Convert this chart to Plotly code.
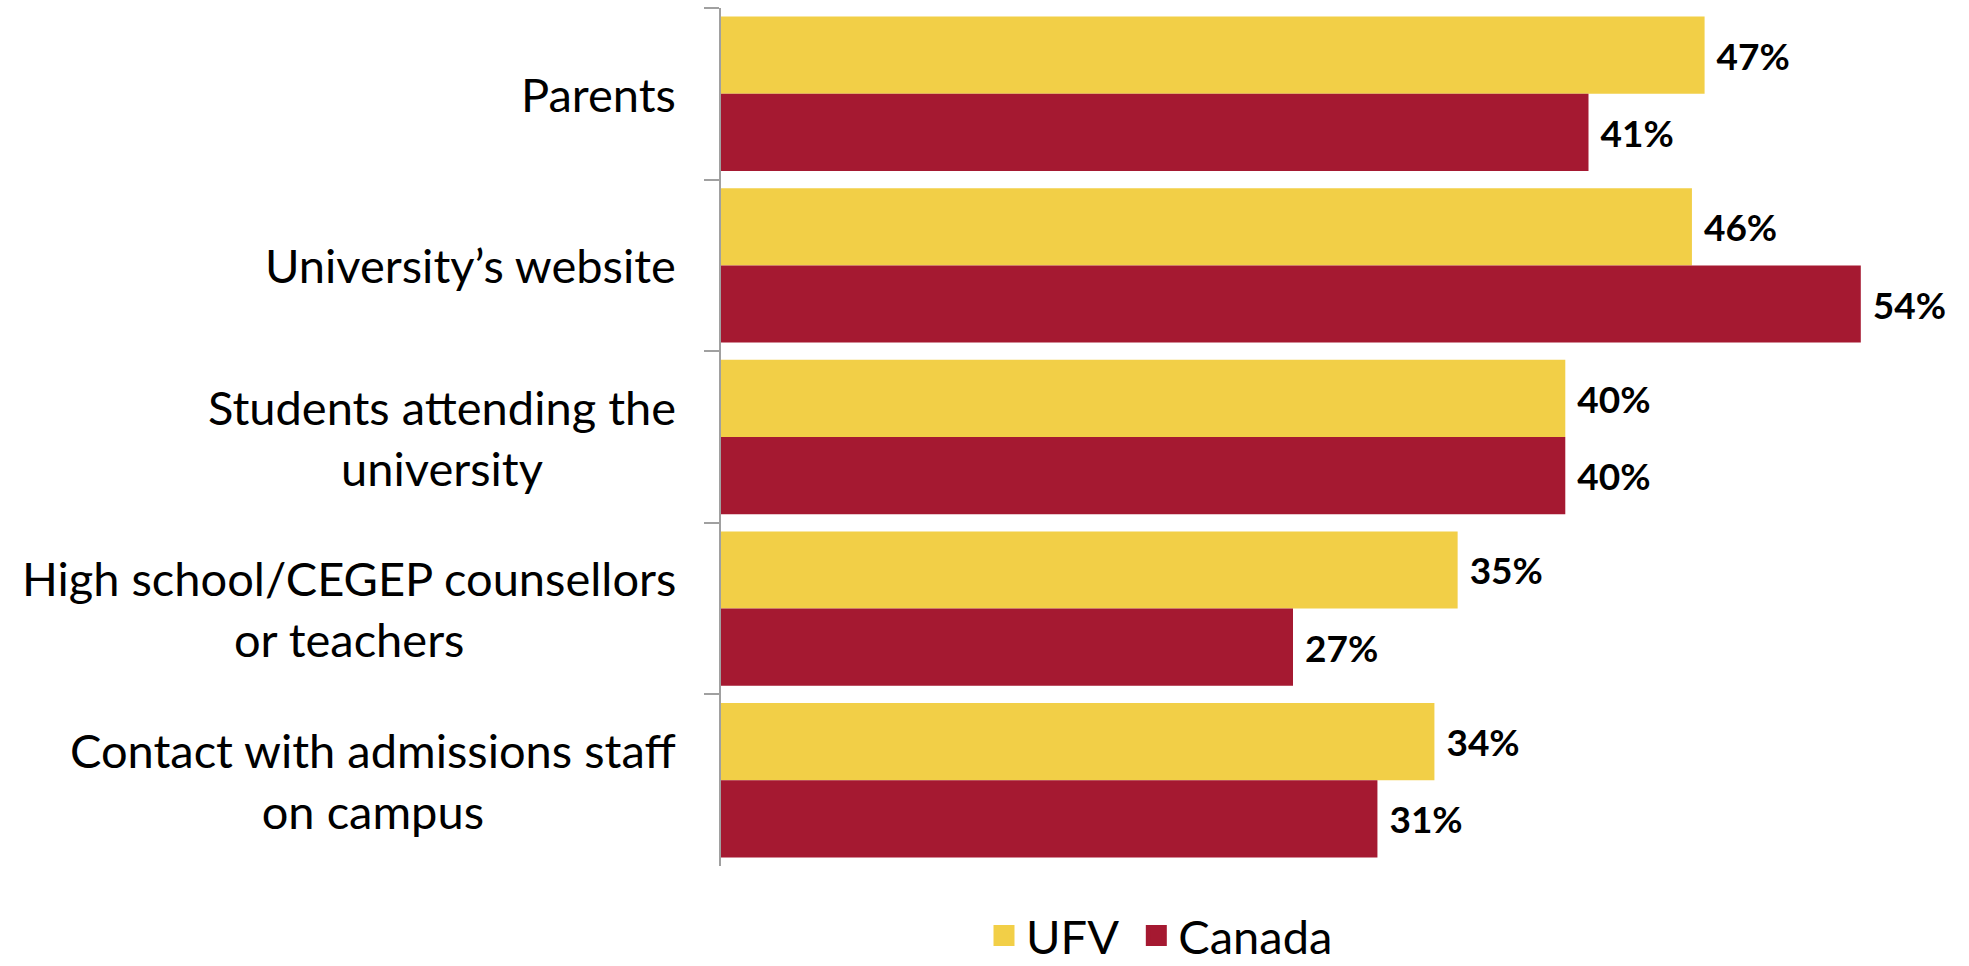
import plotly.graph_objects as go

categories = ["Parents", "University’s website", "Students attending the university",
              "High school/CEGEP counsellors or teachers", "Contact with admissions staff on campus"]
category_labels = ["Parents", "University’s website", "Students attending the<br>university",
                   "High school/CEGEP counsellors<br>or teachers", "Contact with admissions staff<br>on campus"]
ufv_values = [46.6, 46.0, 40.0, 34.9, 33.8]
canada_values = [41.1, 54.0, 40.0, 27.1, 31.1]
ufv_labels = ["47%", "46%", "40%", "35%", "34%"]
canada_labels = ["41%", "54%", "40%", "27%", "31%"]
series_names = ["UFV", "Canada"]

YELLOW = "#F2CF47"
RED = "#A51931"
FONT = "Lato"
PAD = "\u00a0"

fig = go.Figure()
for name, vals, labs, col in [(series_names[0], ufv_values, ufv_labels, YELLOW),
                              (series_names[1], canada_values, canada_labels, RED)]:
    fig.add_trace(go.Bar(
        name=name, y=categories, x=vals, orientation="h",
        marker=dict(color=col, line=dict(width=0)),
        text=[PAD + t for t in labs], textposition="outside",
        textfont=dict(family=FONT, size=37, color="black", weight="bold"),
        cliponaxis=False, constraintext="none", hoverinfo="skip",
        showlegend=False, legendgroup=name,
    ))

# legend entries (square swatches)
legend_texts = [series_names[0] + "\u00a0", series_names[1]]
for name, txt, col in [(series_names[0], legend_texts[0], YELLOW),
                       (series_names[1], legend_texts[1], RED)]:
    fig.add_trace(go.Scatter(
        name=txt, x=[None], y=[None], mode="markers", legendgroup=name,
        marker=dict(symbol="square", size=16, color=col, line=dict(color=col, width=5)),
        showlegend=True, hoverinfo="skip",
    ))

for cat, lab in zip(categories, category_labels):
    fig.add_annotation(
        xref="paper", yref="y", x=0, y=cat, text=lab, showarrow=False,
        xanchor="right", yanchor="middle", align="center", xshift=-43,
        font=dict(family=FONT, size=47, color="black"),
    )

fig.update_layout(
    width=1969, height=966,
    margin=dict(l=721, r=66, t=8, b=100),
    paper_bgcolor="white", plot_bgcolor="white",
    barmode="group", bargap=0.1, bargroupgap=0,
    font=dict(family=FONT, color="black"),
    showlegend=True,
    legend=dict(orientation="h", xref="container", yref="container",
                x=1160 / 1969, xanchor="center", y=1 - 936 / 966, yanchor="middle",
                font=dict(family=FONT, size=47, color="black"), traceorder="normal",
                itemwidth=34, bgcolor="rgba(0,0,0,0)"),
)
fig.update_xaxes(range=[0, 56], showticklabels=False, showgrid=False, zeroline=False,
                 showline=False, ticks="")
fig.update_yaxes(autorange="reversed", showticklabels=False, showgrid=False,
                 showline=True, linecolor="#A0A0A0", linewidth=2,
                 ticks="outside", tickson="boundaries", ticklen=15,
                 tickcolor="#A0A0A0", tickwidth=2)

fig.write_html("out.html", config={"displayModeBar": False},
               post_script="document.body.style.margin='0';document.body.style.overflow='hidden';")
